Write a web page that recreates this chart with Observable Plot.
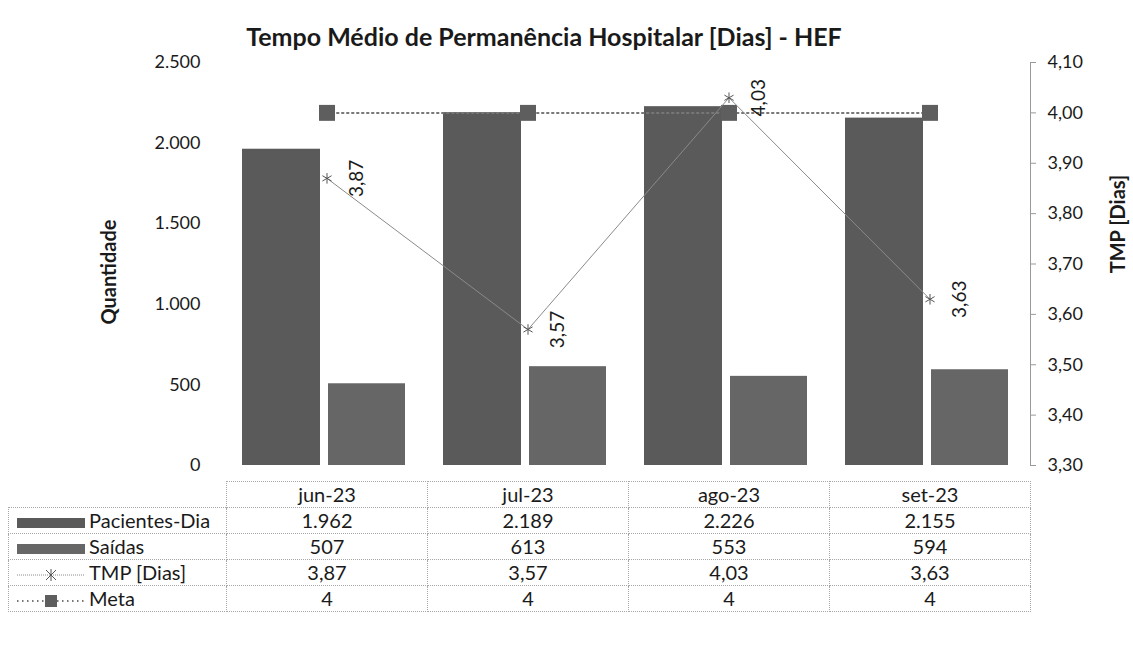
<!DOCTYPE html>
<html><head><meta charset="utf-8">
<script src="https://cdn.jsdelivr.net/npm/d3@7"></script>
<script src="https://cdn.jsdelivr.net/npm/@observablehq/plot@0.6"></script>
<style>
body{margin:0;background:#fff;font-family:Lato,"Open Sans",sans-serif;color:#1a1a1a}
#wrap{position:relative;width:1133px;height:655px;overflow:hidden;background:#fff}
#title{position:absolute;left:0;width:1088px;top:22px;text-align:center;font-weight:700;font-size:25px;line-height:28px}
#chart{position:absolute;left:0;top:0}
.ytitle{position:absolute;font-weight:700;font-size:20px;white-space:nowrap;transform:translate(-50%,-50%) rotate(-90deg)}
#tbl{position:absolute;left:8px;top:481px;border-collapse:collapse;font-size:20px}
#tbl td{border:1px dotted #a8a8a8;height:25px;padding:0;text-align:center;line-height:25px}
#tbl td.lab{text-align:left;width:217px;white-space:nowrap}
#tbl td.val{width:200px}
#tbl td.empty{border:none}
#tbl svg{vertical-align:middle;margin:0 4px 0 8px}
</style></head>
<body><div id="wrap">
<div id="title">Tempo Médio de Permanência Hospitalar [Dias] - HEF</div>
<div id="chart"></div>
<div class="ytitle" style="left:108px;top:272px">Quantidade</div>
<div class="ytitle" style="left:1117px;top:224px">TMP [Dias]</div>
<table id="tbl"></table>
</div>
<script>
const months = ["jun-23", "jul-23", "ago-23", "set-23"];
const pacientesDia = [1962, 2189, 2226, 2155];
const saidas = [507, 613, 553, 594];
const tmpDias = [3.87, 3.57, 4.03, 3.63];
const meta = [4, 4, 4, 4];
const seriesNames = ["Pacientes-Dia", "Saídas", "TMP [Dias]", "Meta"];
const leftTicks = [0, 500, 1000, 1500, 2000, 2500];
const rightTicks = [3.3, 3.4, 3.5, 3.6, 3.7, 3.8, 3.9, 4.0, 4.1];

const leftMax = 2500, rMin = 3.3, rMax = 4.1;
const toLeft = v => (v - rMin) / (rMax - rMin) * leftMax;
const fromLeft = v => rMin + v / leftMax * (rMax - rMin);
const loc = d3.formatLocale({decimal: ",", thousands: ".", grouping: [3], currency: ["R$", ""]});
const fmtInt = loc.format(",.0f");
const fmtDec = loc.format(".2f");

const rows = months.map((m, i) => ({month: m, pac: pacientesDia[i], sai: saidas[i], tmp: tmpDias[i], meta: meta[i]}));

const C_PAC = "#5a5a5a", C_SAI = "#666666", C_TMP = "#8a8a8a", C_META = "#5e5e5e";

const chart = Plot.plot({
  width: 1133, height: 480,
  marginLeft: 226, marginRight: 103, marginTop: 62, marginBottom: 15,
  x: {type: "band", domain: months, padding: 0, axis: null},
  y: {domain: [0, leftMax], axis: null},
  style: {fontFamily: "Lato, 'Open Sans', sans-serif", fontSize: "18px", color: "#1a1a1a", background: "transparent"},
  marks: [
    Plot.axisY({ticks: leftTicks, tickSize: 0, tickPadding: 26, tickFormat: fmtInt, fontSize: 18}),
    Plot.axisY({anchor: "right", ticks: rightTicks.map(toLeft), tickFormat: d => fmtDec(fromLeft(d)), tickSize: 5, tickPadding: 12, stroke: "#999", fontSize: 18}),
    Plot.frame({anchor: "right", stroke: "#999", strokeDasharray: "1,1"}),
    Plot.barY(rows, {x: "month", y: "pac", fill: C_PAC, insetLeft: 16, insetRight: 107}),
    Plot.barY(rows, {x: "month", y: "sai", fill: C_SAI, insetLeft: 102, insetRight: 22}),
    Plot.line(rows, {x: "month", y: d => toLeft(d.meta), stroke: "#777", strokeWidth: 2, strokeDasharray: "1.5,3.5"}),
    Plot.dot(rows, {x: "month", y: d => toLeft(d.meta), symbol: "square", fill: C_META, r: 9}),
    Plot.line(rows, {x: "month", y: d => toLeft(d.tmp), stroke: C_TMP, strokeWidth: 1}),
    Plot.dot(rows, {x: "month", y: d => toLeft(d.tmp), symbol: "asterisk", stroke: "#555", r: 5, strokeWidth: 1}),
    Plot.text(rows, {x: "month", y: d => toLeft(d.tmp), text: d => fmtDec(d.tmp), rotate: -90, dx: 30, fontSize: 19, fill: "#1a1a1a"})
  ]
});
document.getElementById("chart").appendChild(chart);

// data table with legend keys
function swatch(i) {
  if (i === 0) return `<svg width="68" height="14"><rect x="0" y="2" width="68" height="10" fill="${C_PAC}"/></svg>`;
  if (i === 1) return `<svg width="68" height="14"><rect x="0" y="2" width="68" height="10" fill="${C_SAI}"/></svg>`;
  if (i === 2) return `<svg width="68" height="14"><line x1="0" x2="68" y1="7" y2="7" stroke="${C_TMP}" stroke-dasharray="1,1"/><path d="M29,2L39,12M39,2L29,12M34,1V13" stroke="#555"/></svg>`;
  return `<svg width="68" height="14"><line x1="0" x2="68" y1="7" y2="7" stroke="#777" stroke-width="2" stroke-dasharray="1.5,3.5"/><rect x="28" y="1" width="12" height="12" fill="${C_META}"/></svg>`;
}
const values = [pacientesDia.map(fmtInt), saidas.map(fmtInt), tmpDias.map(fmtDec), meta.map(String)];
let html = `<tr><td class="empty"></td>${months.map(m => `<td class="val">${m}</td>`).join("")}</tr>`;
seriesNames.forEach((s, i) => {
  html += `<tr><td class="lab">${swatch(i)}${s}</td>${values[i].map(v => `<td class="val">${v}</td>`).join("")}</tr>`;
});
document.getElementById("tbl").innerHTML = html;
</script>
</body></html>
